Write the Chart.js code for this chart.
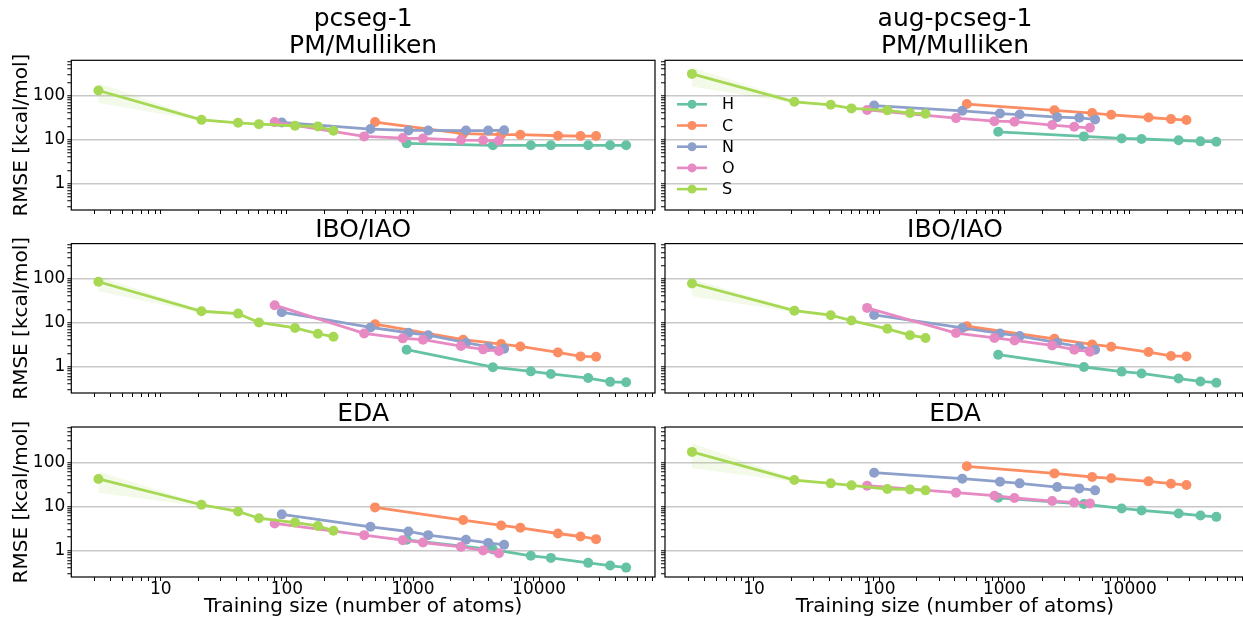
<!DOCTYPE html>
<html>
<head>
<meta charset="utf-8">
<script src="https://cdn.jsdelivr.net/npm/chart.js@4.4.1/dist/chart.umd.min.js"></script>
<style>
  html, body { margin: 0; padding: 0; background: #fff; overflow: hidden; width: 1243px; height: 619px; }
  canvas { position: absolute; }
</style>
</head>
<body>
<script>
// training sizes per element
var elements = ['H', 'C', 'N', 'O', 'S'];
var colors = ['#66c2a5', '#fc8d62', '#8da0cb', '#e78ac3', '#a6d854'];
var sizeH = [890, 4300, 8600, 12400, 24500, 36600, 49000];
var sizeC = [500, 2500, 5000, 7100, 14100, 21300, 28300];
var sizeN = [91, 460, 920, 1320, 2630, 3950, 5280];
var sizeO = [80, 410, 830, 1200, 2400, 3600, 4800];
var sizeS = [3.2, 21, 41, 60, 116, 176, 234];

// pcseg-1, PM/Mulliken
var pcPmH = [8.2, 7.4, 7.4, 7.4, 7.4, 7.4, 7.4];
var pcPmC = [25, 13.6, 12.9, 12.9, 12.2, 12.0, 12.0];
var pcPmN = [24.5, 17.3, 16.1, 16.1, 16.0, 16.0, 16.3];
var pcPmO = [24.9, 11.8, 10.8, 10.6, 9.75, 9.6, 9.4];
var pcPmS = [130, 28, 24, 22.4, 20.6, 19.9, 15.8];
var pcPmSHi = [190, 30, 25.5, 23.5, 22, 21.5, 17];
var pcPmSLo = [68, 26.5, 22.7, 21.3, 19.3, 18.5, 14.8];

// aug-pcseg-1, PM/Mulliken
var augPmH = [15, 11.8, 10.6, 10.3, 9.6, 9.1, 8.9];
var augPmC = [64, 46, 40, 36.5, 31.7, 29.1, 27.7];
var augPmN = [59, 45, 39, 37, 32.3, 31.2, 28.6];
var augPmO = [47, 30.7, 26.2, 25.4, 21.3, 19.5, 18.5];
var augPmS = [310, 72, 61.5, 51, 46, 40, 38.5];
var augPmSHi = [440, 78, 65, 54, 49, 43, 41];
var augPmSLo = [160, 66, 58, 48, 43, 37, 36];

// pcseg-1, IBO/IAO
var pcIboH = [2.43, 0.97, 0.78, 0.68, 0.55, 0.45, 0.44];
var pcIboC = [9.25, 4.1, 3.26, 2.88, 2.11, 1.71, 1.68];
var pcIboN = [17.3, 7.8, 5.9, 5.2, 3.5, 2.8, 2.56];
var pcIboO = [25, 5.7, 4.4, 4.1, 2.94, 2.47, 2.26];
var pcIboS = [85.5, 18.2, 16.1, 10.1, 7.6, 5.6, 4.8];
var pcIboSHi = [112, 19.8, 17.2, 10.9, 8.2, 6.1, 5.2];
var pcIboSLo = [52, 16.6, 15, 9.3, 7, 5.1, 4.4];

// aug-pcseg-1, IBO/IAO
var augIboH = [1.87, 0.98, 0.77, 0.70, 0.535, 0.46, 0.43];
var augIboC = [8.3, 4.3, 3.2, 2.84, 2.15, 1.75, 1.71];
var augIboN = [15, 7.6, 5.7, 4.95, 3.5, 2.8, 2.43];
var augIboO = [21.7, 5.8, 4.5, 3.95, 3.04, 2.43, 2.19];
var augIboS = [78, 18.8, 14.8, 11.2, 7.25, 5.2, 4.5];
var augIboSHi = [100, 20.5, 16, 12, 7.8, 5.6, 4.9];
var augIboSLo = [40, 17.2, 13.6, 10.4, 6.7, 4.8, 4.1];

// pcseg-1, EDA
var pcEdaH = [1.75, 1.05, 0.76, 0.68, 0.525, 0.456, 0.41];
var pcEdaC = [9.5, 4.9, 3.7, 3.27, 2.43, 2.08, 1.81];
var pcEdaN = [6.6, 3.45, 2.7, 2.23, 1.75, 1.49, 1.35];
var pcEdaO = [4.1, 2.23, 1.72, 1.52, 1.21, 1.0, 0.87];
var pcEdaS = [42, 10.9, 7.7, 5.4, 4.3, 3.6, 2.8];
var pcEdaSHi = [62, 11.8, 8.3, 5.8, 4.6, 3.9, 3.0];
var pcEdaSLo = [20.5, 10, 7.1, 5, 4, 3.3, 2.6];

// aug-pcseg-1, EDA
var augEdaH = [15.7, 11.3, 9.0, 8.1, 6.9, 6.2, 5.8];
var augEdaC = [81, 56, 46.4, 43.3, 37, 32.7, 30.5];
var augEdaN = [58, 42.5, 36.4, 33.3, 27.5, 25.6, 23.1];
var augEdaO = [29.5, 20.5, 17.5, 15.5, 13.2, 12.3, 11.7];
var augEdaS = [172, 39.6, 33.3, 30, 24.8, 24.3, 23.1];
var augEdaSHi = [270, 43, 35.5, 32, 26.5, 25.8, 24.5];
var augEdaSLo = [73, 36.5, 31, 28, 23.2, 22.8, 21.7];

var sizes = [sizeH, sizeC, sizeN, sizeO, sizeS];

var panels = [
  { row: 0, col: 0, title: ['pcseg-1', 'PM/Mulliken'], values: [pcPmH, pcPmC, pcPmN, pcPmO, pcPmS], hi: pcPmSHi, lo: pcPmSLo },
  { row: 0, col: 1, title: ['aug-pcseg-1', 'PM/Mulliken'], values: [augPmH, augPmC, augPmN, augPmO, augPmS], hi: augPmSHi, lo: augPmSLo, key: true },
  { row: 1, col: 0, title: 'IBO/IAO', values: [pcIboH, pcIboC, pcIboN, pcIboO, pcIboS], hi: pcIboSHi, lo: pcIboSLo },
  { row: 1, col: 1, title: 'IBO/IAO', values: [augIboH, augIboC, augIboN, augIboO, augIboS], hi: augIboSHi, lo: augIboSLo },
  { row: 2, col: 0, title: 'EDA', values: [pcEdaH, pcEdaC, pcEdaN, pcEdaO, pcEdaS], hi: pcEdaSHi, lo: pcEdaSLo },
  { row: 2, col: 1, title: 'EDA', values: [augEdaH, augEdaC, augEdaN, augEdaO, augEdaS], hi: augEdaSHi, lo: augEdaSLo }
];

// cell geometry
var colLeft = [0, 660], colWidth = [660, 590];
var rowTop = [0, 215, 398], rowHeight = [215, 183, 221];
var yAxisWidth = [71.3, 4], padRight = [4.3, 1.6];
var xAxisHeight = [5, 4.7, 42];
var titleLine = [1.1, 1.0, 1.0];
var titlePad = [{ top: 5.3, bottom: 0 }, { top: 3.1, bottom: 0.5 }, { top: 3.5, bottom: 0.5 }];

Chart.defaults.font.family = "'DejaVu Sans', sans-serif";
Chart.defaults.color = '#000';

function isDecade(v) {
  var l = Math.log10(v);
  return Math.abs(l - Math.round(l)) < 1e-6;
}

// keep only 1..9 x 10^n ticks, like matplotlib minor ticks
function wholeTicks(scale) {
  scale.ticks = scale.ticks.filter(function (t) {
    var m = t.value / Math.pow(10, Math.floor(Math.log10(t.value) + 1e-9));
    return Math.abs(m - Math.round(m)) < 1e-6;
  });
}

var framePlugin = {
  id: 'frame',
  afterDraw: function (chart) {
    var a = chart.chartArea, ctx = chart.ctx;
    ctx.save();
    ctx.strokeStyle = '#000';
    ctx.lineWidth = 1.2;
    ctx.strokeRect(a.left, a.top, a.right - a.left, a.bottom - a.top);
    ctx.restore();
  }
};

var keyPlugin = {
  id: 'key',
  afterDraw: function (chart, args, opts) {
    if (!opts.show) return;
    var a = chart.chartArea, ctx = chart.ctx;
    var sets = chart.data.datasets.filter(function (d) { return !d.band; });
    ctx.save();
    ctx.font = '16px "DejaVu Sans"';
    ctx.textBaseline = 'middle';
    ctx.textAlign = 'left';
    sets.forEach(function (d, i) {
      var y = a.top + 44 + i * 21.2;
      ctx.strokeStyle = d.borderColor;
      ctx.lineWidth = 2.6;
      ctx.beginPath();
      ctx.moveTo(a.left + 12, y);
      ctx.lineTo(a.left + 42, y);
      ctx.stroke();
      ctx.fillStyle = d.borderColor;
      ctx.beginPath();
      ctx.arc(a.left + 27, y, 4.5, 0, Math.PI * 2);
      ctx.fill();
      ctx.fillStyle = '#000';
      ctx.fillText(d.label, a.left + 57, y + 1);
    });
    ctx.restore();
  }
};

panels.forEach(function (p) {
  var canvas = document.createElement('canvas');
  canvas.width = colWidth[p.col];
  canvas.height = rowHeight[p.row];
  canvas.style.left = colLeft[p.col] + 'px';
  canvas.style.top = rowTop[p.row] + 'px';
  document.body.appendChild(canvas);

  var datasets = elements.map(function (el, i) {
    return {
      label: el,
      data: sizes[i].map(function (x, j) { return { x: x, y: p.values[i][j] }; }),
      borderColor: colors[i],
      backgroundColor: colors[i],
      pointBackgroundColor: colors[i],
      pointBorderWidth: 0,
      pointRadius: 5,
      borderWidth: 2.8,
      fill: false,
      order: 5 - i
    };
  });
  datasets.push({
    band: true,
    data: sizeS.map(function (x, j) { return { x: x, y: p.hi[j] }; }),
    borderWidth: 0, pointRadius: 0, fill: false, order: 10
  });
  datasets.push({
    band: true,
    data: sizeS.map(function (x, j) { return { x: x, y: p.lo[j] }; }),
    borderWidth: 0, pointRadius: 0, order: 10,
    fill: '-1', backgroundColor: 'rgba(166, 216, 84, 0.13)'
  });

  var bottomRow = p.row === 2;
  var leftCol = p.col === 0;

  new Chart(canvas, {
    type: 'line',
    data: { datasets: datasets },
    options: {
      responsive: false,
      animation: false,
      events: [],
      layout: { padding: { left: 0, right: padRight[p.col], top: 0, bottom: 0 } },
      plugins: {
        legend: { display: false },
        tooltip: { enabled: false },
        title: {
          display: true,
          text: p.title,
          fullSize: false,
          color: '#000',
          font: { size: 25, weight: 'normal', lineHeight: titleLine[p.row] },
          padding: titlePad[p.row]
        },
        key: { show: !!p.key }
      },
      scales: {
        x: {
          type: 'logarithmic',
          min: 1.95,
          max: 83000,
          afterBuildTicks: wholeTicks,
          afterFit: function (scale) {
            scale.height = xAxisHeight[p.row];
            scale.paddingLeft = 0;
            scale.paddingRight = 0;
          },
          border: { display: false },
          grid: { drawOnChartArea: false, tickColor: '#000', tickLength: 4, tickWidth: 1 },
          ticks: {
            autoSkip: false,
            maxRotation: 0,
            minRotation: 0,
            padding: 0,
            font: { size: 17, lineHeight: 1 },
            callback: function (v) { return bottomRow && isDecade(v) ? String(Math.round(v)) : ''; }
          },
          title: {
            display: bottomRow,
            text: 'Training size (number of atoms)',
            font: { size: 20 },
            padding: { top: 0, bottom: 0 }
          }
        },
        y: {
          type: 'logarithmic',
          min: 0.251,
          max: 631,
          afterBuildTicks: wholeTicks,
          afterFit: function (scale) {
            scale.width = yAxisWidth[p.col];
            scale.paddingTop = 0;
            scale.paddingBottom = 0;
          },
          border: { display: false },
          grid: {
            color: function (ctx) { return ctx.tick && isDecade(ctx.tick.value) ? '#c8c8c8' : 'rgba(0,0,0,0)'; },
            lineWidth: 1.5,
            tickColor: '#000',
            tickLength: 4,
            tickWidth: 1
          },
          ticks: {
            autoSkip: false,
            padding: 2,
            font: { size: 17 },
            callback: function (v) {
              if (!leftCol || !isDecade(v)) return '';
              return v >= 1 ? String(Math.round(v)) : String(v);
            }
          },
          title: {
            display: leftCol,
            text: 'RMSE [kcal/mol]',
            font: { size: 20 },
            padding: { top: 9.5, bottom: 0 }
          }
        }
      }
    },
    plugins: [framePlugin, keyPlugin]
  });
});
</script>
</body>
</html>
